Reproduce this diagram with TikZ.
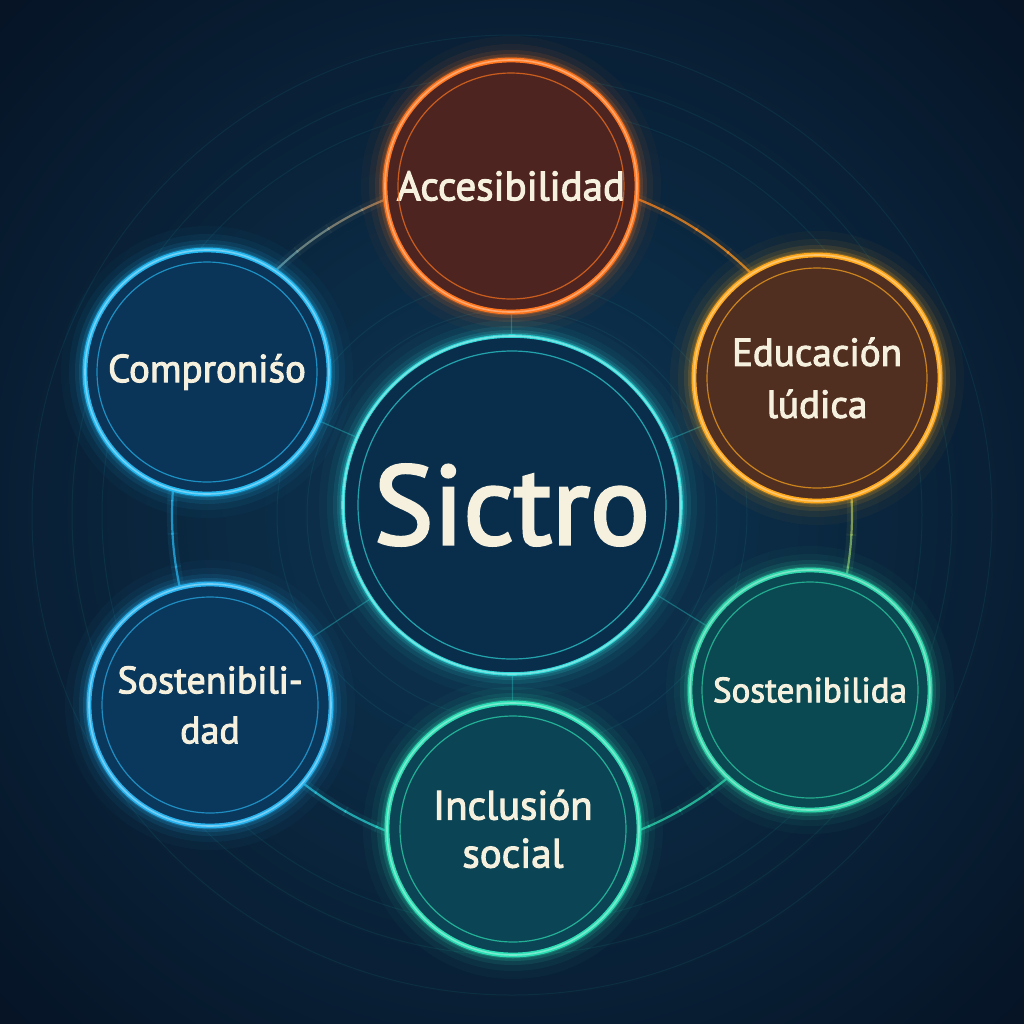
\documentclass[tikz,border=0pt]{standalone}
\usepackage{fontspec}
\setmainfont{PT Sans}[FakeBold=2.6]
\usetikzlibrary{calc}
\definecolor{bgin}{RGB}{14,56,86}
\definecolor{bgout}{RGB}{6,20,38}
\definecolor{txt}{RGB}{246,240,222}
\definecolor{cOrange}{RGB}{255,118,30}
\definecolor{fOrange}{RGB}{78,36,32}
\definecolor{cAmber}{RGB}{255,168,28}
\definecolor{fAmber}{RGB}{80,46,32}
\definecolor{cBlue}{RGB}{36,184,240}
\definecolor{fBlue}{RGB}{10,52,88}
\definecolor{cBlue2}{RGB}{40,178,238}
\definecolor{fBlue2}{RGB}{10,56,92}
\definecolor{cGreen}{RGB}{46,214,170}
\definecolor{fGreen}{RGB}{10,72,82}
\definecolor{cTeal}{RGB}{44,222,180}
\definecolor{fTeal}{RGB}{11,68,84}
\definecolor{cCyan}{RGB}{46,214,214}
\definecolor{fCyan}{RGB}{9,46,76}
\pgfdeclarelayer{back}
\pgfdeclarelayer{mid}
\pgfsetlayers{back,mid,main}
\tikzset{
  sat/.style={circle, line width=2.4pt, text=txt, align=center, inner sep=0pt},
  spoke/.style={line width=0.6pt, draw=cCyan, opacity=0.35},
  faint/.style={line width=0.5pt, draw=cCyan, opacity=0.08},
}
\newcommand\glowring[3]{%
  \foreach \w/\o in {24/0.035,16/0.06,10/0.1,6/0.16,3.5/0.25}{%
    \draw[draw=#2, line width=\w pt, opacity=\o] (#1) circle[radius=#3];}%
}
\newcommand\innerring[3]{%
  \draw[draw=#2, line width=0.6pt, opacity=0.7] (#1) circle[radius=#3];%
}
\newcommand\corering[3]{%
  \draw[draw=#2!55!white, line width=0.8pt, opacity=0.8] (#1) circle[radius=#3];%
}
\begin{document}
\begin{tikzpicture}[x=0.5pt,y=-0.5pt]
\useasboundingbox (0,0) rectangle (1024,1024);
\begin{pgfonlayer}{back}
  \shade[inner color=bgin, outer color=bgout] (-200,-200) rectangle (1224,1224);
  \coordinate (rc) at (512,515);
  \foreach \r in {100,112,205,235,410,440,480}{\draw[faint] (rc) circle[radius=\r*0.5pt];}
\end{pgfonlayer}

% nodes
\node[sat, draw=cCyan, fill=fCyan, minimum size=169pt, line width=1.8pt, font=\fontsize{56}{60}\selectfont] (ctr) at (512,505)
  {Sictro};
\node[sat, draw=cOrange, fill=fOrange, minimum size=126pt, font=\fontsize{20.5}{26}\selectfont] (acc) at (511,186)
  {Accesibilidad};
\node[sat, draw=cAmber, fill=fAmber, minimum size=123pt, font=\fontsize{19.5}{26}\selectfont] (edu) at (817,378)
  {Educación\\lúdica};
\node[sat, draw=cGreen, fill=fGreen, minimum size=120pt, font=\fontsize{17.5}{24}\selectfont] (sos) at (810,690)
  {Sostenibilida};
\node[sat, draw=cTeal, fill=fTeal, minimum size=126pt, font=\fontsize{20.5}{24}\selectfont] (inc) at (513,829)
  {Inclusión\\social};
\node[sat, draw=cBlue2, fill=fBlue2, minimum size=121pt, font=\fontsize{19}{25}\selectfont] (sdd) at (210,705)
  {Sostenibili-\\dad};
\node[sat, draw=cBlue, fill=fBlue, minimum size=122pt, font=\fontsize{19.5}{24}\selectfont] (com) at (207,372)
  {Comproniśo};

\begin{pgfonlayer}{mid}
  % ring with colour blend
  \foreach \sa/\ea/\ca/\cb in {-90/-31/cTeal/cGreen, -31/24/cGreen/cAmber, 24/90/cAmber/cOrange,
      90/155/cOrange/cBlue, 155/211/cBlue/cBlue2, 211/270/cBlue2/cTeal}{
    \foreach \k in {0,...,9}{
      \pgfmathsetmacro\aa{\sa+(\ea-\sa)*\k/10}
      \pgfmathsetmacro\ab{\sa+(\ea-\sa)*(\k+1)/10+0.3}
      \pgfmathtruncatemacro\pp{100-10*\k-5}
      \draw[draw=\ca!\pp!\cb, line width=1.1pt, opacity=0.75] (rc) ++(\aa:170pt) arc[start angle=\aa, end angle=\ab, radius=170pt];
      \draw[draw=\ca!\pp!\cb, line width=5pt, opacity=0.08] (rc) ++(\aa:170pt) arc[start angle=\aa, end angle=\ab, radius=170pt];
    }
  }
  % spokes
  \foreach \n in {acc,edu,sos,inc,sdd,com}{\draw[spoke] (ctr) -- (\n);}
  % glows
  \glowring{ctr}{cCyan}{84.5pt}
  \glowring{acc}{cOrange}{63pt}
  \glowring{edu}{cAmber}{61.5pt}
  \glowring{sos}{cGreen}{60pt}
  \glowring{inc}{cTeal}{63pt}
  \glowring{sdd}{cBlue2}{60.5pt}
  \glowring{com}{cBlue}{61pt}
\end{pgfonlayer}

% bright cores and inner thin rings
\corering{ctr}{cCyan}{84.5pt}
\corering{acc}{cOrange}{63pt}
\corering{edu}{cAmber}{61.5pt}
\corering{sos}{cGreen}{60pt}
\corering{inc}{cTeal}{63pt}
\corering{sdd}{cBlue2}{60.5pt}
\corering{com}{cBlue}{61pt}
\innerring{ctr}{cCyan}{77pt}
\innerring{acc}{cOrange}{56.5pt}
\innerring{edu}{cAmber}{55pt}
\innerring{sos}{cGreen}{54pt}
\innerring{inc}{cTeal}{56.5pt}
\innerring{sdd}{cBlue2}{54pt}
\innerring{com}{cBlue}{55pt}
\end{tikzpicture}
\end{document}
